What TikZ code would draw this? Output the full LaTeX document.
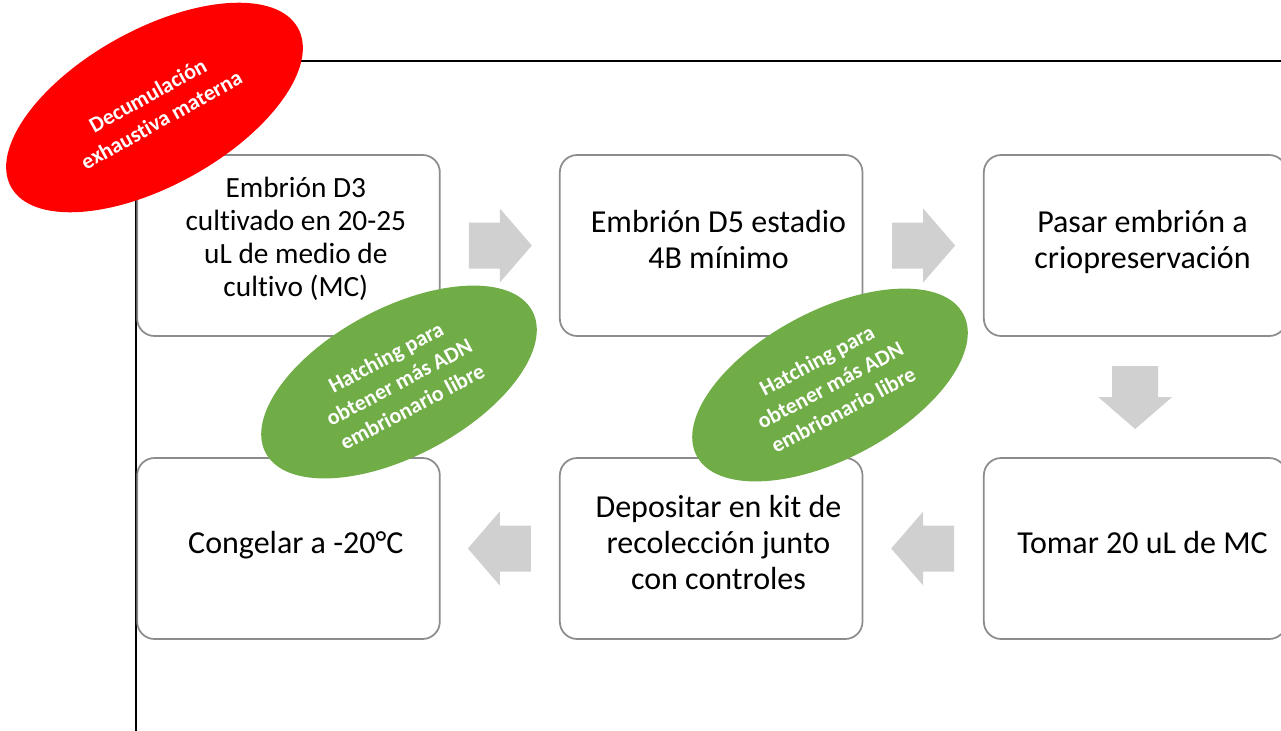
\documentclass[tikz,border=0pt]{standalone}
\usepackage{fontspec}
\setmainfont{Carlito}[Ligatures=NoCommon]
\usetikzlibrary{positioning,calc,shapes.geometric}
\definecolor{boxgray}{HTML}{8C8C8C}
\definecolor{arrgray}{HTML}{D0D0D0}
\definecolor{hgreen}{HTML}{70AD47}
\newcommand\boxtext[2][3pt]{\begin{tabular}{@{\hspace{11pt}}c@{}}#2\\[#1]\end{tabular}}
\tikzset{
  stepbox/.style={draw=boxgray, line width=1.3pt, rounded corners=13pt, fill=white,
    minimum width=227pt, minimum height=135.75pt, inner sep=0pt, outer sep=0pt,
    font=\fontsize{24}{27}\selectfont},
  oval/.style={ellipse, inner sep=0pt, align=center, text=white,
    font=\bfseries\fontsize{16.5}{21}\selectfont},
  hatch/.style={oval, fill=hgreen, minimum width=226.5pt, minimum height=111pt, rotate=28},
  fwd/.pic={\fill[arrgray] (-31,-23) -- (0,-23) -- (0,-37) -- (32,0) -- (0,37) -- (0,23) -- (-31,23) -- cycle;}
}
\begin{document}
\begin{tikzpicture}[x=0.75pt, y=-0.75pt]
\useasboundingbox (0,0) rectangle (1281,731);
\coordinate (tr) at (1281,61);
\coordinate (bl) at (136,731);
\draw[line width=1.3pt] (tr) -| (bl);

\node[stepbox, font=\fontsize{22}{24.75}\selectfont] (d3) at (288.5,245.5)
  {\boxtext[8pt]{Embrión D3\\cultivado en 20-25\\uL de medio de\\cultivo (MC)}};
\node[stepbox, right=90pt of d3] (d5) {\boxtext{Embrión D5 estadio\\4B mínimo}};
\node[stepbox, right=91pt of d5] (crio) {\boxtext{Pasar embrión a\\criopreservación}};
\node[stepbox, below=91.5pt of crio] (tomar) {\boxtext{Tomar 20 uL de MC}};
\node[stepbox, below=91.5pt of d5] (depo) {\boxtext{Depositar en kit de\\recolección junto\\con controles}};
\node[stepbox, below=91.5pt of d3] (cong) {\boxtext{Congelar a -20°C}};

\pic at ($(d3.east)!.5!(d5.west)$) {fwd};
\pic at ($(d5.east)!.5!(crio.west)$) {fwd};
\pic[rotate=-90] at ($(crio.south)!.5!(tomar.north)$) {fwd};
\pic[rotate=180] at ($(tomar.west)!.5!(depo.east)$) {fwd};
\pic[rotate=180] at ($(depo.west)!.5!(cong.east)$) {fwd};

\node[hatch] (h1) at (399,382) {Hatching para\\obtener más ADN\\embrionario libre};
\node[hatch] (h2) at (830,385) {Hatching para\\obtener más ADN\\embrionario libre};
\node[oval, fill=red, minimum width=246pt, minimum height=117pt, rotate=29] (decum)
  at (154.5,107.5) {Decumulación\\exhaustiva materna};
\end{tikzpicture}
\end{document}
